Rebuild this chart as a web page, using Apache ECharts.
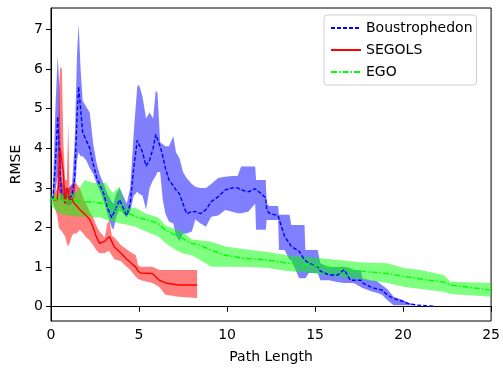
<!DOCTYPE html>
<html>
<head>
<meta charset="utf-8">
<script src="https://cdn.jsdelivr.net/npm/echarts@6/dist/echarts.min.js"></script>
<style>
  html, body { margin: 0; padding: 0; background: #fff; }
  #chart { width: 503px; height: 369px; }
</style>
</head>
<body>
<div id="chart"></div>
<script>
// 刻度
const xTicks = [0, 5, 10, 15, 20, 25];
const yTicks = [0, 1, 2, 3, 4, 5, 6, 7];

// Boustrophedon: x, 均值, 下界, 上界
const bouX = [0.1, 0.25, 0.38, 0.48, 0.58, 0.8, 1.0, 1.2, 1.35, 1.48, 1.57, 1.68, 1.8, 2.0, 2.2, 2.4, 2.6, 2.8, 3.0, 3.2, 3.45, 3.55, 3.7, 3.9, 4.1, 4.3, 4.5, 4.7, 4.9, 5.0, 5.2, 5.4, 5.6, 5.8, 5.95, 6.05, 6.2, 6.35, 6.5, 6.7, 6.95, 7.1, 7.3, 7.5, 7.7, 8.0, 8.2, 8.5, 8.8, 9.1, 9.5, 9.9, 10.3, 10.6, 10.8, 11.2, 11.6, 11.65, 12.2, 12.25, 12.4, 12.9, 12.95, 13.27, 13.55, 13.65, 14.1, 14.4, 14.45, 14.65, 15.15, 15.3, 15.8, 16.3, 16.65, 17.0, 17.2, 17.6, 17.7, 18.15, 18.5, 18.8, 19.1, 19.46, 20.0, 20.3, 20.8, 21.8];
const bouMean = [2.7, 3.6, 4.8, 3.8, 2.9, 2.8, 2.75, 2.8, 3.3, 4.8, 5.55, 5.0, 4.4, 4.2, 4.0, 3.6, 3.25, 3.05, 2.85, 2.5, 2.25, 2.25, 2.5, 2.7, 2.5, 2.3, 2.6, 3.5, 4.2, 4.25, 3.9, 3.55, 3.7, 4.0, 4.35, 4.4, 4.05, 3.8, 3.5, 3.2, 3.05, 2.95, 2.85, 2.6, 2.35, 2.4, 2.4, 2.35, 2.45, 2.65, 2.78, 2.95, 3.0, 3.0, 2.95, 2.9, 2.98, 2.95, 2.75, 2.45, 2.36, 2.3, 2.25, 1.77, 1.6, 1.52, 1.4, 1.18, 1.15, 1.1, 1.01, 0.9, 0.8, 0.8, 0.94, 0.67, 0.67, 0.67, 0.6, 0.5, 0.45, 0.42, 0.3, 0.21, 0.13, 0.08, 0.04, 0.01];
const bouLo = [2.6, 2.9, 3.3, 2.9, 2.7, 2.6, 2.55, 2.6, 2.8, 3.7, 3.9, 3.8, 3.8, 3.7, 3.5, 3.35, 3.1, 2.9, 2.65, 2.35, 2.0, 1.95, 2.25, 2.5, 2.35, 2.25, 2.4, 2.8, 2.9, 2.85, 2.8, 2.45, 3.0, 3.2, 3.3, 3.4, 3.4, 2.7, 2.35, 2.15, 2.1, 1.8, 1.65, 1.85, 1.85, 1.9, 2.2, 2.1, 2.02, 2.27, 2.3, 2.44, 2.4, 2.36, 2.36, 2.4, 2.6, 1.94, 1.94, 2.19, 2.19, 2.19, 1.43, 1.43, 1.18, 1.18, 0.72, 0.72, 0.72, 0.85, 0.85, 0.67, 0.67, 0.62, 0.6, 0.6, 0.6, 0.5, 0.47, 0.4, 0.35, 0.3, 0.17, 0.04, 0.04, 0.04, 0.04, 0.01];
const bouHi = [2.8, 5.0, 6.35, 5.5, 3.2, 3.0, 3.0, 3.1, 4.2, 6.4, 7.15, 6.0, 5.2, 5.05, 4.9, 4.1, 3.6, 3.3, 3.1, 2.85, 2.65, 2.6, 2.85, 3.0, 2.8, 2.6, 3.0, 4.4, 5.55, 5.6, 5.3, 4.75, 4.9, 4.75, 5.45, 5.4, 4.15, 4.1, 4.05, 4.05, 4.3, 3.9, 3.75, 3.4, 3.25, 3.1, 3.03, 3.0, 3.0, 3.1, 3.25, 3.28, 3.3, 3.3, 3.54, 3.54, 3.54, 3.2, 3.2, 2.62, 2.54, 2.54, 2.32, 2.32, 2.32, 2.06, 2.06, 2.06, 1.43, 1.43, 1.43, 1.1, 1.0, 1.0, 1.01, 0.98, 0.93, 0.93, 0.72, 0.67, 0.65, 0.55, 0.45, 0.25, 0.17, 0.1, 0.04, 0.01];

// SEGOLS
const segX = [0.13, 0.35, 0.45, 0.52, 0.62, 0.7, 0.8, 0.9, 0.98, 1.05, 1.2, 1.3, 1.45, 1.64, 1.83, 2.0, 2.2, 2.4, 2.57, 2.76, 3.05, 3.2, 3.32, 3.45, 3.6, 3.98, 4.3, 4.45, 4.82, 4.95, 5.1, 5.76, 6.15, 6.5, 7.26, 8.3];
const segMean = [2.7, 2.7, 3.2, 4.0, 4.0, 3.4, 2.6, 3.0, 2.9, 2.7, 2.72, 2.62, 2.55, 2.45, 2.37, 2.3, 2.2, 2.0, 1.77, 1.6, 1.65, 1.72, 1.77, 1.65, 1.51, 1.35, 1.2, 1.14, 1.0, 0.9, 0.85, 0.84, 0.67, 0.6, 0.55, 0.55];
const segLo = [2.6, 2.3, 2.0, 1.95, 1.9, 1.85, 1.77, 1.6, 1.52, 1.6, 1.8, 1.85, 1.85, 1.94, 1.85, 1.75, 1.68, 1.55, 1.43, 1.35, 1.35, 1.4, 1.4, 1.3, 1.2, 1.15, 1.0, 0.95, 0.76, 0.7, 0.67, 0.6, 0.5, 0.3, 0.25, 0.22];
const segHi = [2.8, 3.0, 5.5, 6.05, 6.0, 4.2, 3.2, 3.2, 4.63, 3.0, 3.1, 3.15, 3.1, 3.0, 2.75, 2.6, 2.4, 2.25, 2.05, 1.9, 1.75, 2.1, 2.19, 1.8, 1.75, 1.55, 1.45, 1.4, 1.3, 1.05, 1.01, 1.01, 0.93, 0.93, 0.93, 0.93];

// EGO
const egoX = [0.0, 0.5, 1.0, 1.5, 1.9, 2.4, 2.8, 3.1, 3.5, 3.9, 4.2, 4.8, 5.4, 6.1, 6.5, 7.1, 7.45, 8.0, 8.4, 9.1, 9.9, 11.0, 12.3, 13.4, 14.8, 16.3, 17.5, 19.1, 20.1, 21.0, 22.3, 22.7, 25.0];
const egoMean = [2.72, 2.7, 2.68, 2.67, 2.65, 2.64, 2.62, 2.6, 2.52, 2.44, 2.4, 2.27, 2.2, 2.1, 1.94, 1.8, 1.73, 1.6, 1.56, 1.43, 1.3, 1.22, 1.18, 1.1, 1.05, 0.97, 0.9, 0.84, 0.76, 0.7, 0.62, 0.55, 0.42];
const egoLo = [2.55, 2.35, 2.3, 2.28, 2.27, 2.26, 2.25, 2.2, 2.15, 2.1, 2.08, 2.02, 1.9, 1.77, 1.6, 1.43, 1.35, 1.3, 1.2, 1.01, 1.01, 1.01, 0.98, 0.9, 0.85, 0.76, 0.7, 0.6, 0.5, 0.45, 0.38, 0.32, 0.25];
const egoHi = [2.8, 2.85, 2.85, 2.9, 3.2, 3.12, 3.12, 3.12, 2.87, 3.03, 2.52, 2.5, 2.35, 2.25, 2.05, 1.95, 1.9, 1.7, 1.68, 1.64, 1.52, 1.45, 1.38, 1.3, 1.25, 1.18, 1.12, 1.1, 0.97, 0.93, 0.8, 0.63, 0.6];

const font = 'DejaVu Sans';
const fs = 14;
let $chart = echarts.init(document.getElementById('chart'));

// 填充带：用多边形画上下界之间的区域
function band(name, xs, lo, hi, color) {
	return {
		type: 'custom',
		name: name,
		silent: true,
		z: 1,
		data: xs.map((x, i) => [x, lo[i], hi[i]]),
		encode: { x: 0, y: [1, 2] },
		renderItem: (params, api) => {
			if (params.dataIndex !== 0) return null;
			const pts = [];
			for (let i = 0; i < xs.length; i++) pts.push(api.coord([xs[i], hi[i]]));
			for (let i = xs.length - 1; i >= 0; i--) pts.push(api.coord([xs[i], lo[i]]));
			return { type: 'polygon', shape: { points: pts }, style: { fill: color } };
		}
	};
}

function line(name, xs, ys, color, type) {
	return {
		type: 'line',
		name: name,
		z: 3,
		symbol: 'none',
		data: xs.map((x, i) => [x, ys[i]]),
		lineStyle: { color: color, width: 1.4, type: type },
		itemStyle: { color: color }
	};
}

// 图例里只要线，不要圆点
const hideDot = { opacity: 0, color: 'transparent', borderWidth: 0 };

const option = {
	animation: false,
	backgroundColor: '#fff',
	textStyle: { fontFamily: font },
	grid: { left: 51, right: 8, top: 8, bottom: 48, show: true, borderColor: '#000', borderWidth: 1, backgroundColor: 'transparent' },
	legend: {
		data: [
			{ name: 'Boustrophedon', itemStyle: hideDot },
			{ name: 'SEGOLS', itemStyle: hideDot },
			{ name: 'EGO', itemStyle: hideDot }
		],
		orient: 'vertical',
		left: 324,
		top: 15,
		padding: [6, 4, 6, 6],
		itemWidth: 30,
		itemHeight: 14,
		itemGap: 8,
		itemTextGap: 12,
		backgroundColor: '#fff',
		borderColor: '#d0d0d0',
		borderWidth: 1,
		borderRadius: 3,
		textStyle: { fontFamily: font, fontSize: fs, color: '#000' }
	},
	xAxis: {
		type: 'value',
		min: 0,
		max: 25,
		interval: 5,
		name: 'Path Length',
		nameLocation: 'middle',
		nameGap: 29,
		nameTextStyle: { fontFamily: font, fontSize: fs, color: '#000' },
		axisLine: { lineStyle: { color: '#000' } },
		axisTick: { length: 5, lineStyle: { color: '#000' }, customValues: xTicks },
		axisLabel: { fontFamily: font, fontSize: fs, color: '#000', margin: 7, customValues: xTicks },
		splitLine: { show: false }
	},
	yAxis: {
		type: 'value',
		min: -0.36,
		max: 7.54,
		name: 'RMSE',
		nameLocation: 'middle',
		nameGap: 25,
		nameTextStyle: { fontFamily: font, fontSize: fs, color: '#000' },
		axisLine: { show: true, lineStyle: { color: '#000' } },
		axisTick: { show: true, length: 5, lineStyle: { color: '#000' }, customValues: yTicks },
		axisLabel: { fontFamily: font, fontSize: fs, color: '#000', margin: 8, customValues: yTicks },
		splitLine: { show: false }
	},
	series: [
		band('bouBand', bouX, bouLo, bouHi, 'rgba(0,0,255,0.5)'),
		band('segBand', segX, segLo, segHi, 'rgba(255,0,0,0.5)'),
		band('egoBand', egoX, egoLo, egoHi, 'rgba(0,255,0,0.5)'),
		line('Boustrophedon', bouX, bouMean, '#0000ff', [4, 2]),
		line('SEGOLS', segX, segMean, '#ff0000', 'solid'),
		line('EGO', egoX, egoMean, '#00ff00', [6, 2, 1.5, 2])
	]
};

$chart.setOption(option, true);
</script>
</body>
</html>
